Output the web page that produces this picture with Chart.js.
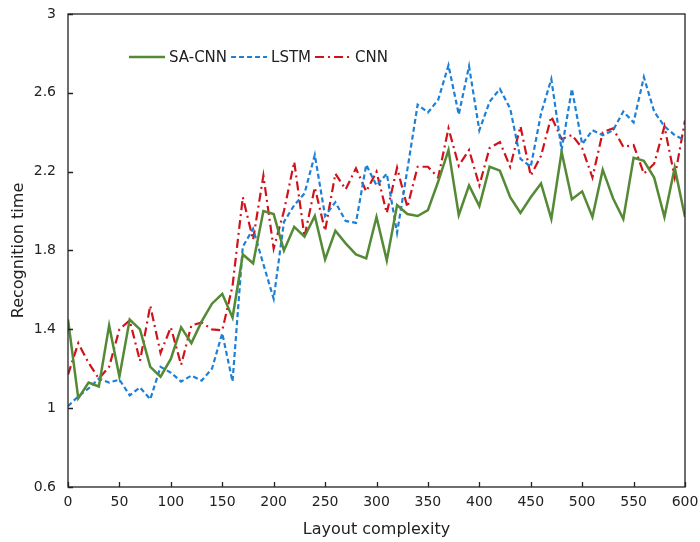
<!DOCTYPE html>
<html>
<head>
<meta charset="utf-8">
<script src="https://cdn.jsdelivr.net/npm/chart.js@4/dist/chart.umd.min.js"></script>
<style>
  html, body { margin: 0; padding: 0; background: #fff; }
  #wrap { width: 700px; height: 542px; }
</style>
</head>
<body>
<div id="wrap"><canvas id="c" width="700" height="542"></canvas></div>
<script>
// ---- data ----
const layoutComplexity = [0,10,20,30,40,50,60,70,80,90,100,110,120,130,140,150,160,170,180,190,200,
  210,220,230,240,250,260,270,280,290,300,310,320,330,340,350,360,370,380,390,400,
  410,420,430,440,450,460,470,480,490,500,510,520,530,540,550,560,570,580,590,600];

const saCnn = [1.45,1.05,1.13,1.11,1.42,1.16,1.45,1.40,1.21,1.16,1.25,1.41,1.33,1.44,1.53,1.58,1.46,1.78,1.735,2.00,1.985,
  1.80,1.92,1.87,1.975,1.755,1.90,1.836,1.78,1.76,1.97,1.75,2.03,1.985,1.975,2.005,2.15,2.31,1.98,2.13,2.025,
  2.225,2.205,2.07,1.99,2.07,2.14,1.96,2.30,2.06,2.10,1.97,2.21,2.065,1.96,2.27,2.255,2.17,1.97,2.22,1.97];

const lstm = [1.01,1.06,1.10,1.15,1.13,1.145,1.065,1.105,1.045,1.21,1.18,1.135,1.165,1.14,1.20,1.38,1.135,1.82,1.91,1.73,1.555,
  1.945,2.03,2.09,2.285,1.975,2.045,1.95,1.94,2.235,2.13,2.19,1.89,2.21,2.54,2.50,2.565,2.74,2.49,2.735,2.41,
  2.555,2.62,2.52,2.265,2.225,2.495,2.67,2.31,2.62,2.34,2.41,2.385,2.41,2.505,2.45,2.68,2.505,2.43,2.385,2.36];

const cnn = [1.17,1.33,1.23,1.15,1.21,1.40,1.445,1.24,1.52,1.28,1.41,1.22,1.42,1.435,1.40,1.395,1.62,2.07,1.855,2.18,1.81,
  2.00,2.25,1.87,2.12,1.90,2.19,2.11,2.217,2.10,2.20,1.99,2.22,2.02,2.225,2.225,2.17,2.42,2.23,2.31,2.13,
  2.32,2.35,2.225,2.43,2.18,2.28,2.48,2.365,2.386,2.32,2.17,2.40,2.42,2.326,2.335,2.19,2.24,2.43,2.17,2.46];

const seriesNames = ['SA-CNN','LSTM','CNN'];
const xTickValues = [0,50,100,150,200,250,300,350,400,450,500,550,600];
const xTickLabels = ['0','50','100','150','200','250','300','350','400','450','500','550','600'];
const yTickValues = [0.6,1,1.4,1.8,2.2,2.6,3];
const yTickLabels = ['0.6','1','1.4','1.8','2.2','2.6','3'];
const xTitle = 'Layout complexity';
const yTitle = 'Recognition time';

// ---- build ----
const toPts = arr => arr.map((v,i) => ({x: layoutComplexity[i], y: v}));
const FONT = 'DejaVu Sans, Verdana, sans-serif';

const styles = [
  {color:'#548a35', width:2.5, dash:[]},
  {color:'#1d80d6', width:2.2, dash:[5,3]},
  {color:'#d0121b', width:2.2, dash:[9,4,2,4]}
];
const datasets = [saCnn, lstm, cnn].map((arr,i) => ({
  label: seriesNames[i],
  data: toPts(arr),
  borderColor: styles[i].color,
  backgroundColor: styles[i].color,
  borderWidth: styles[i].width,
  borderDash: styles[i].dash,
  pointRadius: 0,
  tension: 0,
  fill: false
}));

const framePlugin = {
  id: 'frame',
  afterDraw(chart) {
    const {ctx, chartArea: a, scales: {x, y}} = chart;
    ctx.save();
    ctx.strokeStyle = '#222';
    ctx.lineWidth = 1.3;
    ctx.setLineDash([]);
    ctx.strokeRect(a.left, a.top, a.right - a.left, a.bottom - a.top);
    ctx.beginPath();
    x.ticks.forEach((t, i) => {
      const px = Math.round(x.getPixelForTick(i)) + 0.5;
      ctx.moveTo(px, a.bottom); ctx.lineTo(px, a.bottom - 5);
    });
    y.ticks.forEach((t, i) => {
      const py = Math.round(y.getPixelForTick(i)) + 0.5;
      ctx.moveTo(a.left, py); ctx.lineTo(a.left + 5, py);
    });
    ctx.stroke();

    // legend inside plot
    let lx = a.left + 61;
    const ly = a.top + 43;
    ctx.font = '15px ' + FONT;
    ctx.textBaseline = 'middle';
    ctx.textAlign = 'left';
    chart.data.datasets.forEach(ds => {
      ctx.strokeStyle = ds.borderColor;
      ctx.lineWidth = ds.borderWidth;
      ctx.setLineDash(ds.borderDash || []);
      ctx.beginPath();
      ctx.moveTo(lx, ly); ctx.lineTo(lx + 36, ly);
      ctx.stroke();
      ctx.setLineDash([]);
      lx += 40;
      ctx.fillStyle = '#222';
      ctx.fillText(ds.label, lx, ly + 1);
      lx += ctx.measureText(ds.label).width + 4;
    });
    ctx.restore();
  }
};

new Chart(document.getElementById('c'), {
  type: 'line',
  data: { datasets },
  options: {
    responsive: false,
    animation: false,
    layout: { padding: { top: 14, right: 15, left: 0, bottom: 0 } },
    plugins: { legend: { display: false }, tooltip: { enabled: false } },
    scales: {
      x: {
        type: 'linear', min: 0, max: 600,
        afterBuildTicks: s => { s.ticks = xTickValues.map(v => ({value: v})); },
        afterFit: s => { s.height = 55; s.paddingLeft = 0; s.paddingRight = 0; },
        grid: { display: false, drawTicks: false },
        border: { display: false },
        ticks: {
          padding: 7, color: '#222', font: { family: FONT, size: 14 },
          maxRotation: 0, autoSkip: false,
          callback: (v, i) => xTickLabels[i]
        },
        title: { display: true, text: xTitle, color: '#222', font: { family: FONT, size: 16 }, padding: { top: 0, bottom: 3 } }
      },
      y: {
        type: 'linear', min: 0.6, max: 3,
        afterBuildTicks: s => { s.ticks = yTickValues.map(v => ({value: v})); },
        afterFit: s => { s.width = 68; s.paddingTop = 0; s.paddingBottom = 0; },
        grid: { display: false, drawTicks: false },
        border: { display: false },
        ticks: {
          padding: 12, color: '#222', font: { family: FONT, size: 14 },
          autoSkip: false,
          callback: (v, i) => yTickLabels[i]
        },
        title: { display: true, text: yTitle, color: '#222', font: { family: FONT, size: 16 }, padding: { top: 9, bottom: 0 } }
      }
    }
  },
  plugins: [framePlugin]
});
</script>
</body>
</html>
